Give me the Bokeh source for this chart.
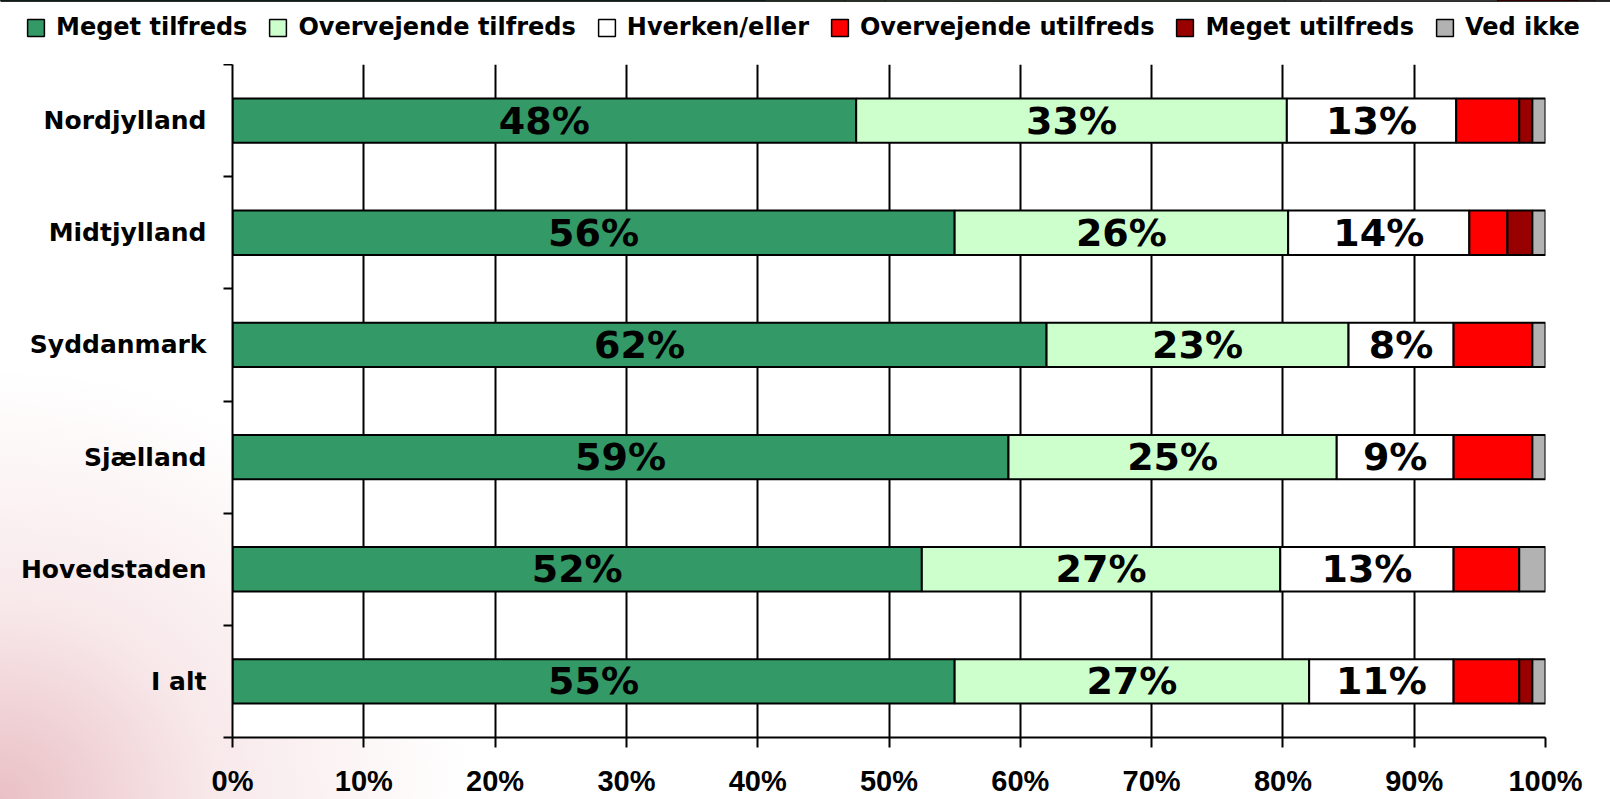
from bokeh.plotting import figure
from bokeh.models import (Range1d, FixedTicker, PrintfTickFormatter, ColumnDataSource)
from bokeh.layouts import column
from bokeh.core.properties import value
from bokeh.embed import file_html
from bokeh.resources import INLINE

# ---------------- data ----------------
categories = ["Nordjylland", "Midtjylland", "Syddanmark", "Sjælland", "Hovedstaden", "I alt"]
series_names = ["Meget tilfreds", "Overvejende tilfreds", "Hverken/eller",
                "Overvejende utilfreds", "Meget utilfreds", "Ved ikke"]
meget_tilfreds = [47.5, 55.0, 62.0, 59.1, 52.5, 55.0]
overvejende_tilfreds = [32.8, 25.4, 23.0, 25.0, 27.3, 27.0]
hverken_eller = [12.9, 13.8, 8.0, 8.9, 13.2, 11.0]
overvejende_utilfreds = [4.8, 2.9, 6.0, 6.0, 5.0, 5.0]
meget_utilfreds = [1.0, 1.9, 0.0, 0.0, 0.0, 1.0]
ved_ikke = [1.0, 1.0, 1.0, 1.0, 2.0, 1.0]
# printed data labels
label_meget_tilfreds = [48, 56, 62, 59, 52, 55]
label_overvejende_tilfreds = [33, 26, 23, 25, 27, 27]
label_hverken_eller = [13, 14, 8, 9, 13, 11]
x_ticks = [0, 10, 20, 30, 40, 50, 60, 70, 80, 90, 100]

colors = ["#339966", "#CCFFCC", "#FFFFFF", "#FF0000", "#990000", "#B2B2B2"]
keys = ["s0", "s1", "s2", "s3", "s4", "s5"]
series = [meget_tilfreds, overvejende_tilfreds, hverken_eller,
          overvejende_utilfreds, meget_utilfreds, ved_ikke]

n = len(categories)
centers = [i + 0.5 for i in range(n)]
edges = [float(i) for i in range(n + 1)]

data = {"pos": centers}
for k, s in zip(keys, series):
    data[k] = s
source = ColumnDataSource(data)

# ---------------- legend strip (its own full-width frame) ----------------
LEG_H = 64
lf = figure(width=1610, height=LEG_H, output_backend="svg", toolbar_location=None,
            x_range=Range1d(0, 100), y_range=Range1d(-2 * n, -n),   # the stacked bars lie outside this view
            x_axis_location=None, y_axis_location=None,
            min_border_left=0, min_border_right=0, min_border_top=0, min_border_bottom=0)
lf.frame_align = False
lf.outline_line_color = None
lf.background_fill_color = None
lf.border_fill_color = None
lf.xgrid.visible = False
lf.ygrid.visible = False
lf.hbar_stack(keys, y="pos", height=0.395, source=source, color=colors,
              line_color="black", line_width=1.5, legend_label=series_names)
lg = lf.legend[0]
lg.orientation = "horizontal"
lg.location = (25, 23)
lg.glyph_width = 21
lg.glyph_height = 21
lg.label_standoff = 10
lg.spacing = 20
lg.padding = 0
lg.margin = 0
lg.border_line_color = None
lg.background_fill_alpha = 0
lg.label_text_font = "DejaVu Sans"
lg.label_text_font_style = "bold"
lg.label_text_font_size = "24px"
lg.label_text_color = "black"

# ---------------- main chart ----------------
p = figure(width=1610, height=799 - LEG_H, output_backend="svg", toolbar_location=None,
           x_range=Range1d(0, 100), y_range=Range1d(n, 0),
           min_border_left=232, min_border_right=65, min_border_top=0, min_border_bottom=60)
p.frame_align = False
p.outline_line_color = None
p.background_fill_color = "white"
p.border_fill_color = None
p.styles = {"background-image":
            "radial-gradient(ellipse 470px 430px at 0% 100%, rgba(215,140,150,0.55) 0%, "
            "rgba(235,190,195,0.35) 45%, rgba(255,255,255,0) 100%)"}

p.hbar_stack(keys, y="pos", height=0.395, source=source, color=colors,
             line_color="black", line_width=2)

# data labels
lab_x, lab_y, lab_t = [], [], []
for i in range(n):
    start = 0.0
    for s, labs in zip(series[:3], [label_meget_tilfreds, label_overvejende_tilfreds, label_hverken_eller]):
        lab_x.append(start + s[i] / 2.0)
        lab_y.append(centers[i])
        lab_t.append(f"{labs[i]}%")
        start += s[i]
p.text(x=lab_x, y=lab_y, text=lab_t, text_align="center", text_baseline="middle",
       text_font=value("DejaVu Sans"), text_font_style="bold", text_font_size="38px",
       text_color="black")

# x axis
xa = p.xaxis[0]
xa.ticker = FixedTicker(ticks=x_ticks, minor_ticks=[])
xa.formatter = PrintfTickFormatter(format="%d%%")
xa.major_tick_in = 0
xa.major_tick_out = 10
xa.major_tick_line_width = 2
xa.axis_line_width = 2
xa.major_label_standoff = 17
xa.major_label_text_font = "Liberation Sans"
xa.major_label_text_font_style = "bold"
xa.major_label_text_font_size = "29px"
xa.major_label_text_color = "black"

p.xgrid.ticker = FixedTicker(ticks=x_ticks)
p.xgrid.grid_line_color = "black"
p.xgrid.grid_line_width = 2
p.ygrid.grid_line_color = None

# y axis: labels at category centres, tick marks at category boundaries
ya = p.yaxis[0]
ya.ticker = FixedTicker(ticks=centers, minor_ticks=edges)
ya.major_label_overrides = {c: name for c, name in zip(centers, categories)}
ya.major_tick_line_color = None
ya.major_tick_in = 0
ya.major_tick_out = 0
ya.minor_tick_in = 0
ya.minor_tick_out = 9
ya.minor_tick_line_width = 2
ya.minor_tick_line_color = "black"
ya.axis_line_width = 2
ya.major_label_standoff = 17
ya.major_label_text_font = "DejaVu Sans"
ya.major_label_text_font_style = "bold"
ya.major_label_text_font_size = "25px"
ya.major_label_text_color = "black"

layout = column(lf, p, spacing=0)
open("out.html", "w").write(file_html(layout, INLINE))
